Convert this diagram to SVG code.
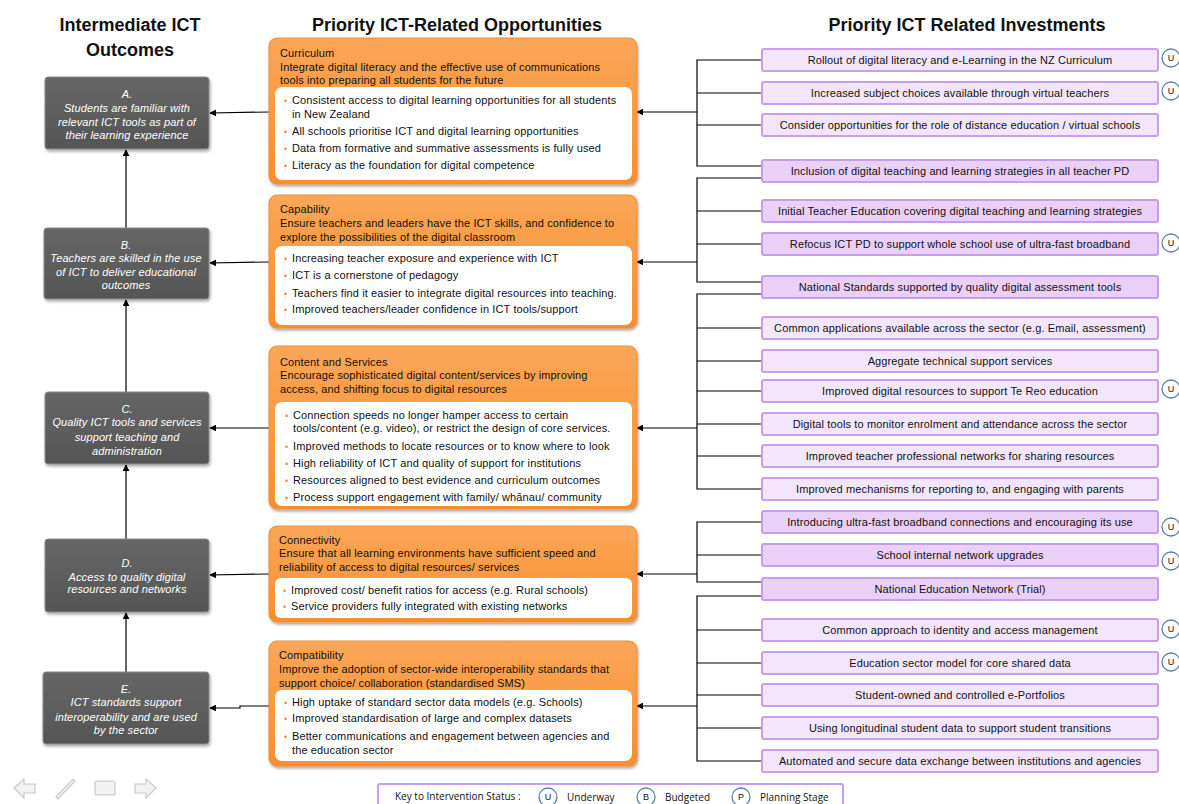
<svg xmlns="http://www.w3.org/2000/svg" width="1179" height="804" viewBox="0 0 1179 804">
<defs>
<linearGradient id="og" x1="0" y1="0" x2="0" y2="1"><stop offset="0" stop-color="#FBA658"/><stop offset="1" stop-color="#F68F2E"/></linearGradient>
<linearGradient id="gg" x1="0" y1="0" x2="0" y2="1"><stop offset="0" stop-color="#666"/><stop offset="1" stop-color="#555"/></linearGradient>
<filter id="sh" x="-5%" y="-5%" width="112%" height="115%"><feDropShadow dx="1" dy="2" stdDeviation="1.5" flood-color="#000" flood-opacity="0.35"/></filter>
<marker id="ah" viewBox="0 0 10 10" refX="9" refY="5" markerWidth="7" markerHeight="7" orient="auto" markerUnits="userSpaceOnUse"><path d="M0,0 L10,5 L0,10 z" fill="#000"/></marker>
<style>
.h{font-family:"Liberation Sans",Arial,sans-serif;font-weight:bold;font-size:18px;fill:#111;text-anchor:middle}
.ob{fill:url(#gg);stroke:#8a8a8a;stroke-width:1;filter:url(#sh)}
.ot{font-family:"Liberation Sans",Arial,sans-serif;font-style:italic;font-size:11px;fill:#fff;text-anchor:middle;letter-spacing:0.1px}
.or{fill:url(#og);stroke:#EE8E3A;stroke-width:1;filter:url(#sh)}
.wb{fill:#fff;stroke:none}
.t{font-family:"Liberation Sans",Arial,sans-serif;font-size:11px;fill:#111;letter-spacing:0.12px}
.bu{font-family:"Liberation Sans",Arial,sans-serif;font-size:9px;fill:#E98B2E}
.pb{fill:#F3E6FC;stroke:#C89DF0;stroke-width:2}
.pd{fill:#EACFF8;stroke:#C89DF0;stroke-width:2}
.rt{font-family:"Liberation Sans",Arial,sans-serif;font-size:11px;fill:#111;text-anchor:middle;letter-spacing:0.12px}
.ci{fill:#fff;stroke:#5E7FA8;stroke-width:1.3}
.ct{font-family:"Liberation Sans",Arial,sans-serif;font-size:9px;fill:#111;text-anchor:middle}
.ln{fill:none;stroke:#000;stroke-width:1.2}
.lg{font-family:"Open Sans","Liberation Sans",sans-serif;font-size:10px;fill:#111}
.nav{fill:#f2f2f2;stroke:#c8c8c8;stroke-width:1.2}
</style>
</defs>
<rect width="1179" height="804" fill="#fff"/>

<g id="headings">
<text class="h" x="130" y="31">Intermediate ICT</text>
<text class="h" x="130" y="56">Outcomes</text>
<text class="h" x="457" y="31">Priority ICT-Related Opportunities</text>
<text class="h" x="967" y="31">Priority ICT Related Investments</text>
</g>

<g id="connectors">
<line class="ln" x1="126" y1="228" x2="126" y2="150" marker-end="url(#ah)"/>
<line class="ln" x1="126" y1="392" x2="126" y2="300" marker-end="url(#ah)"/>
<line class="ln" x1="126" y1="539" x2="126" y2="465" marker-end="url(#ah)"/>
<line class="ln" x1="126" y1="672" x2="126" y2="613" marker-end="url(#ah)"/>
<line class="ln" x1="269" y1="112" x2="210" y2="113" marker-end="url(#ah)"/>
<line class="ln" x1="269" y1="262" x2="210" y2="263" marker-end="url(#ah)"/>
<line class="ln" x1="269" y1="428" x2="210" y2="428" marker-end="url(#ah)"/>
<line class="ln" x1="269" y1="574" x2="210" y2="575" marker-end="url(#ah)"/>
<path class="ln" d="M269,706 H240 V708 H210" marker-end="url(#ah)"/>
<path class="ln" d="M762,60 H697 V166 H762 M697,93 H762 M697,125 H762"/>
<line class="ln" x1="697" y1="112" x2="637" y2="112" marker-end="url(#ah)"/>
<path class="ln" d="M762,178 H697 V282 H762 M697,211 H762 M697,244 H762"/>
<line class="ln" x1="697" y1="262" x2="637" y2="262" marker-end="url(#ah)"/>
<path class="ln" d="M762,294 H697 V489 H762 M697,328 H762 M697,361 H762 M697,391 H762 M697,424 H762 M697,456 H762"/>
<line class="ln" x1="697" y1="428" x2="637" y2="428" marker-end="url(#ah)"/>
<path class="ln" d="M762,522 H697 V582 H762 M697,555 H762"/>
<line class="ln" x1="697" y1="574" x2="637" y2="574" marker-end="url(#ah)"/>
<path class="ln" d="M762,596 H697 V761 H762 M697,630 H762 M697,663 H762 M697,695 H762 M697,728 H762"/>
<line class="ln" x1="697" y1="706" x2="637" y2="706" marker-end="url(#ah)"/>
</g>

<g id="outcome-A">
<rect class="ob" x="45" y="77" width="164" height="72" rx="3"/>
<text class="ot" x="127" y="98">A.</text>
<text class="ot" x="127" y="112">Students are familiar with</text>
<text class="ot" x="127" y="126">relevant ICT tools as part of</text>
<text class="ot" x="127" y="139">their learning experience</text>
</g>
<g id="outcome-B">
<rect class="ob" x="44" y="228" width="165" height="71" rx="3"/>
<text class="ot" x="126" y="249">B.</text>
<text class="ot" x="126" y="262">Teachers are skilled in the use</text>
<text class="ot" x="126" y="276">of ICT to deliver educational</text>
<text class="ot" x="126" y="289">outcomes</text>
</g>
<g id="outcome-C">
<rect class="ob" x="45" y="392" width="164" height="72" rx="3"/>
<text class="ot" x="127" y="413">C.</text>
<text class="ot" x="127" y="426">Quality ICT tools and services</text>
<text class="ot" x="127" y="441">support teaching and</text>
<text class="ot" x="127" y="455">administration</text>
</g>
<g id="outcome-D">
<rect class="ob" x="45" y="539" width="164" height="73" rx="3"/>
<text class="ot" x="127" y="567">D.</text>
<text class="ot" x="127" y="581">Access to quality digital</text>
<text class="ot" x="127" y="593">resources and networks</text>
</g>
<g id="outcome-E">
<rect class="ob" x="43" y="672" width="166" height="72" rx="3"/>
<text class="ot" x="126" y="693">E.</text>
<text class="ot" x="126" y="706">ICT standards support</text>
<text class="ot" x="126" y="721">interoperability and are used</text>
<text class="ot" x="126" y="734">by the sector</text>
</g>

<g id="opp-curriculum">
<rect class="or" x="269" y="38" width="368" height="146" rx="8"/>
<rect class="wb" x="275" y="87" width="357" height="93" rx="7"/>
<text class="t" x="280" y="57">Curriculum</text>
<text class="t" x="280" y="71">Integrate digital literacy and the effective use of communications</text>
<text class="t" x="280" y="84">tools into preparing all students for the future</text>
<text class="bu" x="284" y="104">•</text><text class="t" x="292" y="104">Consistent access to digital learning opportunities for all students</text>
<text class="t" x="292" y="118">in New Zealand</text>
<text class="bu" x="284" y="135">•</text><text class="t" x="292" y="135">All schools prioritise ICT and digital learning opportunities</text>
<text class="bu" x="284" y="152">•</text><text class="t" x="292" y="152">Data from formative and summative assessments is fully used</text>
<text class="bu" x="284" y="169">•</text><text class="t" x="292" y="169">Literacy as the foundation for digital competence</text>
</g>
<g id="opp-capability">
<rect class="or" x="269" y="195" width="368" height="133" rx="8"/>
<rect class="wb" x="275" y="246" width="357" height="79" rx="7"/>
<text class="t" x="280" y="213">Capability</text>
<text class="t" x="280" y="227">Ensure teachers and leaders have the ICT skills, and confidence to</text>
<text class="t" x="280" y="241">explore the possibilities of the digital classroom</text>
<text class="bu" x="284" y="262">•</text><text class="t" x="292" y="262">Increasing teacher exposure and experience with ICT</text>
<text class="bu" x="284" y="279">•</text><text class="t" x="292" y="279">ICT is a cornerstone of pedagogy</text>
<text class="bu" x="284" y="297">•</text><text class="t" x="292" y="297">Teachers find it easier to integrate digital resources into teaching.</text>
<text class="bu" x="284" y="313">•</text><text class="t" x="292" y="313">Improved teachers/leader confidence in ICT tools/support</text>
</g>
<g id="opp-content">
<rect class="or" x="269" y="346" width="368" height="163" rx="8"/>
<rect class="wb" x="275" y="402" width="357" height="104" rx="7"/>
<text class="t" x="280" y="366">Content and Services</text>
<text class="t" x="280" y="379">Encourage sophisticated digital content/services by improving</text>
<text class="t" x="280" y="393">access, and shifting focus to digital resources</text>
<text class="bu" x="285" y="419">•</text><text class="t" x="293" y="419">Connection speeds no longer hamper access to certain</text>
<text class="t" x="293" y="432">tools/content (e.g. video), or restrict the design of core services.</text>
<text class="bu" x="285" y="450">•</text><text class="t" x="293" y="450">Improved methods to locate resources or to know where to look</text>
<text class="bu" x="285" y="467">•</text><text class="t" x="293" y="467">High reliability of ICT and quality of support for institutions</text>
<text class="bu" x="285" y="484">•</text><text class="t" x="293" y="484">Resources aligned to best evidence and curriculum outcomes</text>
<text class="bu" x="285" y="501">•</text><text class="t" x="293" y="501">Process support engagement with family/ whānau/ community</text>
</g>
<g id="opp-connectivity">
<rect class="or" x="269" y="526" width="368" height="96" rx="8"/>
<rect class="wb" x="275" y="578" width="357" height="40" rx="6"/>
<text class="t" x="279" y="544">Connectivity</text>
<text class="t" x="279" y="557">Ensure that all learning environments have sufficient speed and</text>
<text class="t" x="279" y="571">reliability of access to digital resources/ services</text>
<text class="bu" x="283" y="594">•</text><text class="t" x="291" y="594">Improved cost/ benefit ratios for access (e.g. Rural schools)</text>
<text class="bu" x="283" y="610">•</text><text class="t" x="291" y="610">Service providers fully integrated with existing networks</text>
</g>
<g id="opp-compatibility">
<rect class="or" x="269" y="641" width="368" height="125" rx="8"/>
<rect class="wb" x="275" y="690" width="357" height="71" rx="7"/>
<text class="t" x="279" y="659">Compatibility</text>
<text class="t" x="279" y="673">Improve the adoption of sector-wide interoperability standards that</text>
<text class="t" x="279" y="687">support choice/ collaboration (standardised SMS)</text>
<text class="bu" x="284" y="706">•</text><text class="t" x="292" y="706">High uptake of standard sector data models (e.g. Schools)</text>
<text class="bu" x="284" y="722">•</text><text class="t" x="292" y="722">Improved standardisation of  large and complex datasets</text>
<text class="bu" x="284" y="740">•</text><text class="t" x="292" y="740">Better communications and engagement between agencies and</text>
<text class="t" x="292" y="754">the education sector</text>
</g>

<g id="inv-1"><rect class="pb" x="762" y="49" width="396" height="22" rx="2"/><text class="rt" x="960" y="64">Rollout of digital literacy and e-Learning in the NZ Curriculum</text></g>
<g id="inv-2"><rect class="pb" x="762" y="82" width="396" height="22" rx="2"/><text class="rt" x="960" y="97">Increased subject choices available through virtual teachers</text></g>
<g id="inv-3"><rect class="pb" x="762" y="114" width="396" height="22" rx="2"/><text class="rt" x="960" y="129">Consider opportunities for  the role of distance education / virtual schools</text></g>
<g id="inv-4"><rect class="pd" x="762" y="160" width="396" height="22" rx="2"/><text class="rt" x="960" y="175">Inclusion of digital teaching and learning strategies in all teacher PD</text></g>
<g id="inv-5"><rect class="pd" x="762" y="200" width="396" height="22" rx="2"/><text class="rt" x="960" y="215">Initial Teacher Education covering digital teaching and learning strategies</text></g>
<g id="inv-6"><rect class="pd" x="762" y="233" width="396" height="22" rx="2"/><text class="rt" x="960" y="248">Refocus ICT PD to support whole school use of ultra-fast broadband</text></g>
<g id="inv-7"><rect class="pd" x="762" y="276" width="396" height="22" rx="2"/><text class="rt" x="960" y="291">National Standards supported by quality digital assessment tools</text></g>
<g id="inv-8"><rect class="pb" x="762" y="317" width="396" height="22" rx="2"/><text class="rt" x="960" y="332">Common applications available across the sector (e.g. Email, assessment)</text></g>
<g id="inv-9"><rect class="pb" x="762" y="350" width="396" height="22" rx="2"/><text class="rt" x="960" y="365">Aggregate technical support services</text></g>
<g id="inv-10"><rect class="pb" x="762" y="380" width="396" height="22" rx="2"/><text class="rt" x="960" y="395">Improved digital resources to support Te Reo education</text></g>
<g id="inv-11"><rect class="pb" x="762" y="413" width="396" height="22" rx="2"/><text class="rt" x="960" y="428">Digital tools to monitor enrolment and attendance across the sector</text></g>
<g id="inv-12"><rect class="pb" x="762" y="445" width="396" height="22" rx="2"/><text class="rt" x="960" y="460">Improved teacher professional networks for sharing resources</text></g>
<g id="inv-13"><rect class="pb" x="762" y="478" width="396" height="22" rx="2"/><text class="rt" x="960" y="493">Improved mechanisms for reporting to, and engaging with parents</text></g>
<g id="inv-14"><rect class="pd" x="762" y="511" width="396" height="22" rx="2"/><text class="rt" x="960" y="526">Introducing ultra-fast broadband connections and encouraging its use</text></g>
<g id="inv-15"><rect class="pd" x="762" y="544" width="396" height="22" rx="2"/><text class="rt" x="960" y="559">School internal network upgrades</text></g>
<g id="inv-16"><rect class="pd" x="762" y="578" width="396" height="22" rx="2"/><text class="rt" x="960" y="593">National Education Network (Trial)</text></g>
<g id="inv-17"><rect class="pb" x="762" y="619" width="396" height="22" rx="2"/><text class="rt" x="960" y="634">Common approach to identity and access management</text></g>
<g id="inv-18"><rect class="pb" x="762" y="652" width="396" height="22" rx="2"/><text class="rt" x="960" y="667">Education sector model for core shared data</text></g>
<g id="inv-19"><rect class="pb" x="762" y="684" width="396" height="22" rx="2"/><text class="rt" x="960" y="699">Student-owned and controlled e-Portfolios</text></g>
<g id="inv-20"><rect class="pb" x="762" y="717" width="396" height="22" rx="2"/><text class="rt" x="960" y="732">Using longitudinal student data to support student transitions</text></g>
<g id="inv-21"><rect class="pb" x="762" y="750" width="396" height="22" rx="2"/><text class="rt" x="960" y="765">Automated and secure data exchange between institutions and agencies</text></g>

<g id="status-markers">
<circle class="ci" cx="1171" cy="58" r="9"/><text class="ct" x="1171" y="61">U</text>
<circle class="ci" cx="1171" cy="91" r="9"/><text class="ct" x="1171" y="94">U</text>
<circle class="ci" cx="1171" cy="243" r="9"/><text class="ct" x="1171" y="246">U</text>
<circle class="ci" cx="1171" cy="389" r="9"/><text class="ct" x="1171" y="392">U</text>
<circle class="ci" cx="1171" cy="527" r="9"/><text class="ct" x="1171" y="530">U</text>
<circle class="ci" cx="1171" cy="561" r="9"/><text class="ct" x="1171" y="564">U</text>
<circle class="ci" cx="1171" cy="629" r="9"/><text class="ct" x="1171" y="632">U</text>
<circle class="ci" cx="1171" cy="662" r="9"/><text class="ct" x="1171" y="665">U</text>
</g>

<g id="legend">
<rect x="378" y="784" width="465" height="30" rx="2" fill="#fff" stroke="#C89DF0" stroke-width="2"/>
<text class="lg" x="395" y="800">Key to Intervention Status :</text>
<circle class="ci" cx="548" cy="797" r="9"/><text class="ct" x="548" y="800">U</text>
<text class="lg" x="567" y="801">Underway</text>
<circle class="ci" cx="646" cy="797" r="9"/><text class="ct" x="646" y="800">B</text>
<text class="lg" x="665" y="801">Budgeted</text>
<circle class="ci" cx="741" cy="797" r="9"/><text class="ct" x="741" y="800">P</text>
<text class="lg" x="760" y="801">Planning Stage</text>
</g>

<g id="nav-icons">
<path class="nav" d="M14,788 L24,779 L24,784 L35,784 L35,793 L24,793 L24,798 Z"/>
<path class="nav" d="M56,797 L73,779 L75,781 L58,799 Z"/>
<rect class="nav" x="95" y="781" width="20" height="14" rx="2"/>
<path class="nav" d="M156,788 L146,779 L146,784 L135,784 L135,793 L146,793 L146,798 Z"/>
</g>
</svg>
